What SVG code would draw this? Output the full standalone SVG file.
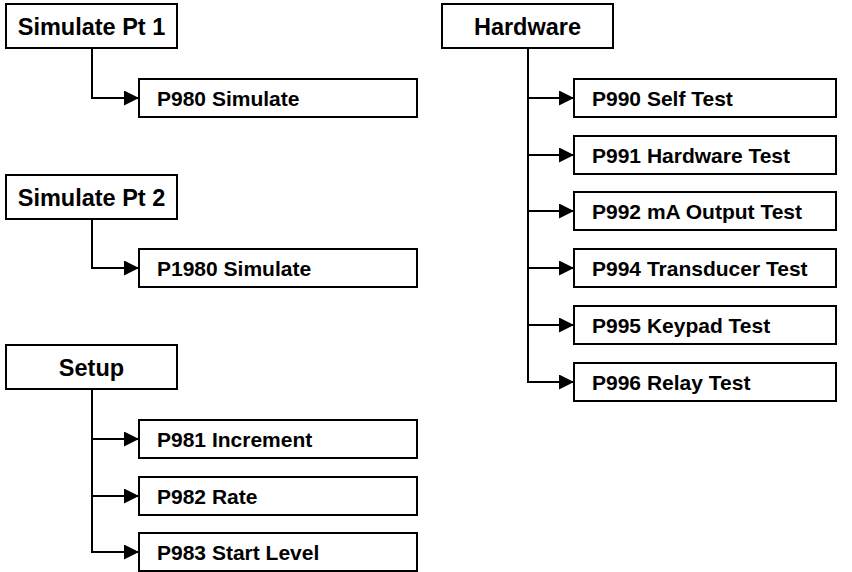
<svg xmlns="http://www.w3.org/2000/svg" width="852" height="572" viewBox="0 0 852 572">
<style>
  .box { fill: #ffffff; stroke: #000000; stroke-width: 2; }
  .pt { font-family: "Liberation Sans", Arial, sans-serif; font-weight: bold; font-size: 23.5px; fill: #000; text-anchor: middle; }
  .ct { font-family: "Liberation Sans", Arial, sans-serif; font-weight: bold; font-size: 21px; fill: #000; }
  .conn { fill: none; stroke: #000; stroke-width: 2; }
</style>
<defs>
  <marker id="arr" markerUnits="userSpaceOnUse" markerWidth="15" markerHeight="15" refX="15" refY="7.5" orient="auto">
    <path d="M0,0 L15,7.5 L0,15 z" fill="#000"/>
  </marker>
</defs>
<rect width="852" height="572" fill="#ffffff"/>

<g id="connectors">
  <path class="conn" d="M92,48 V98 H139" marker-end="url(#arr)"/>
  <path class="conn" d="M92,219 V268 H139" marker-end="url(#arr)"/>
  <path class="conn" d="M92,389 V552"/>
  <path class="conn" d="M92,439 H139" marker-end="url(#arr)"/>
  <path class="conn" d="M92,496 H139" marker-end="url(#arr)"/>
  <path class="conn" d="M91,552 H139" marker-end="url(#arr)"/>
  <path class="conn" d="M528,48 V382"/>
  <path class="conn" d="M528,98 H574" marker-end="url(#arr)"/>
  <path class="conn" d="M528,155 H574" marker-end="url(#arr)"/>
  <path class="conn" d="M528,211 H574" marker-end="url(#arr)"/>
  <path class="conn" d="M528,268 H574" marker-end="url(#arr)"/>
  <path class="conn" d="M528,325 H574" marker-end="url(#arr)"/>
  <path class="conn" d="M527,382 H574" marker-end="url(#arr)"/>
</g>

<g id="sim1">
  <rect class="box" x="6" y="4" width="171" height="44"/>
  <text class="pt" x="91.5" y="34.5">Simulate Pt 1</text>
</g>
<g id="p980">
  <rect class="box" x="139" y="79" width="278" height="38"/>
  <text class="ct" x="157" y="105.5">P980 Simulate</text>
</g>

<g id="sim2">
  <rect class="box" x="6" y="175" width="171" height="44"/>
  <text class="pt" x="91.5" y="205.5">Simulate Pt 2</text>
</g>
<g id="p1980">
  <rect class="box" x="139" y="249" width="278" height="38"/>
  <text class="ct" x="157" y="275.5">P1980 Simulate</text>
</g>

<g id="setup">
  <rect class="box" x="6" y="345" width="171" height="44"/>
  <text class="pt" x="91.5" y="375.5">Setup</text>
</g>
<g id="p981">
  <rect class="box" x="139" y="420" width="278" height="38"/>
  <text class="ct" x="157" y="446.5">P981 Increment</text>
</g>
<g id="p982">
  <rect class="box" x="139" y="477" width="278" height="38"/>
  <text class="ct" x="157" y="503.5">P982 Rate</text>
</g>
<g id="p983">
  <rect class="box" x="139" y="533" width="278" height="38"/>
  <text class="ct" x="157" y="559.5">P983 Start Level</text>
</g>

<g id="hardware">
  <rect class="box" x="442" y="4" width="171" height="44"/>
  <text class="pt" x="527.5" y="34.5">Hardware</text>
</g>
<g id="p990">
  <rect class="box" x="574" y="79" width="262" height="38"/>
  <text class="ct" x="592" y="105.5">P990 Self Test</text>
</g>
<g id="p991">
  <rect class="box" x="574" y="136" width="262" height="38"/>
  <text class="ct" x="592" y="162.5">P991 Hardware Test</text>
</g>
<g id="p992">
  <rect class="box" x="574" y="192" width="262" height="38"/>
  <text class="ct" x="592" y="218.5">P992 mA Output Test</text>
</g>
<g id="p994">
  <rect class="box" x="574" y="249" width="262" height="38"/>
  <text class="ct" x="592" y="275.5">P994 Transducer Test</text>
</g>
<g id="p995">
  <rect class="box" x="574" y="306" width="262" height="38"/>
  <text class="ct" x="592" y="332.5">P995 Keypad Test</text>
</g>
<g id="p996">
  <rect class="box" x="574" y="363" width="262" height="38"/>
  <text class="ct" x="592" y="389.5">P996 Relay Test</text>
</g>
</svg>
